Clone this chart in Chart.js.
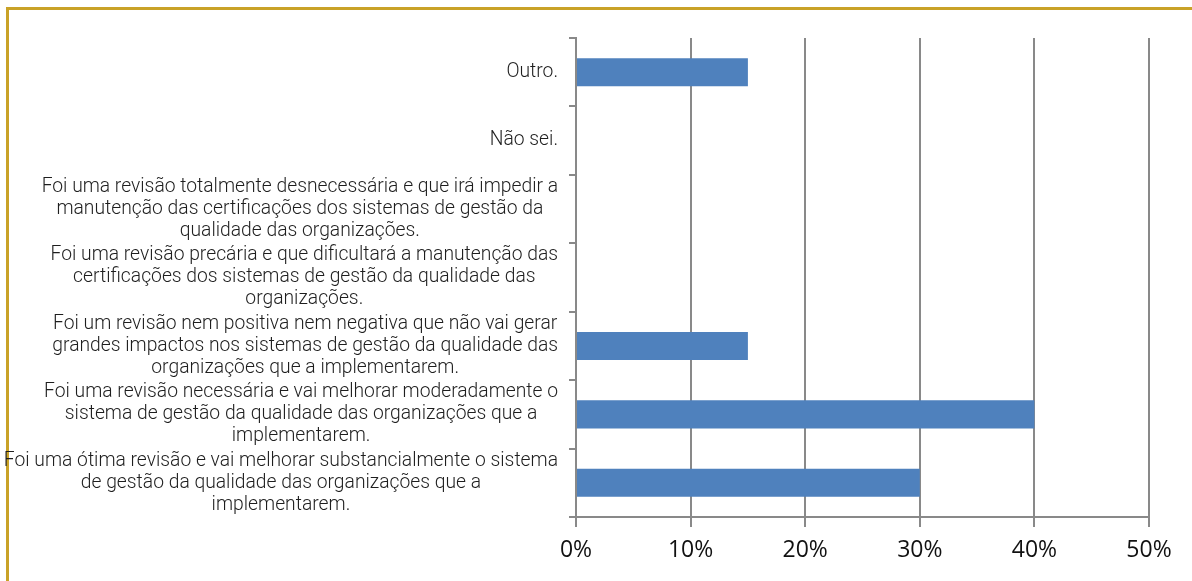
<!DOCTYPE html>
<html>
<head>
<meta charset="utf-8">
<script src="https://cdn.jsdelivr.net/npm/chart.js@4.4.0/dist/chart.umd.min.js"></script>
<style>
  html, body { margin: 0; padding: 0; background: #fff; }
  #wrap { position: relative; width: 1192px; height: 581px; overflow: hidden; }
  #frame { position: absolute; left: 6px; top: 7px; right: -10px; bottom: -10px;
           border-top: 3px solid #c9a227; border-left: 3px solid #c9a227; }
  canvas { position: absolute; left: 0; top: 0; }
</style>
</head>
<body>
<div id="wrap">
  <div id="frame"></div>
  <canvas id="chart" width="1192" height="581"></canvas>
</div>
<script>
// categorias, de cima para baixo
const categorias = [
  ['Outro.'],
  ['Não sei.'],
  ['Foi uma revisão totalmente desnecessária e que irá impedir a',
   'manutenção das certificações dos sistemas de gestão da',
   'qualidade das organizações.'],
  ['Foi uma revisão precária e que dificultará a manutenção das',
   'certificações dos sistemas de gestão da qualidade das',
   'organizações.'],
  ['Foi um revisão nem positiva nem negativa que não vai gerar',
   'grandes impactos nos sistemas de gestão da qualidade das',
   'organizações que a implementarem.'],
  ['Foi uma revisão necessária e vai melhorar moderadamente o',
   'sistema de gestão da qualidade das organizações que a',
   'implementarem.'],
  ['Foi uma ótima revisão e vai melhorar substancialmente o sistema',
   'de gestão da qualidade das organizações que a',
   'implementarem.']
];
const percentuais = [15, 0, 0, 0, 15, 40, 30];
const ticksX = [0, 10, 20, 30, 40, 50];

const labelFont = '300 19.3px Roboto';
const labelRight = 558;
const lineH = 22;

// desenha os rótulos do eixo y: bloco alinhado à direita, linhas centradas
const rotulosPlugin = {
  id: 'rotulos',
  afterDraw(chart) {
    const ctx = chart.ctx;
    const y = chart.scales.y;
    ctx.save();
    ctx.font = labelFont;
    ctx.fillStyle = '#1e1e1e';
    ctx.textAlign = 'center';
    ctx.textBaseline = 'middle';
    categorias.forEach((linhas, i) => {
      const cy = y.getPixelForValue(i);
      let w = 0;
      linhas.forEach(l => { w = Math.max(w, ctx.measureText(l).width); });
      const cx = labelRight - w / 2;
      const y0 = cy - (linhas.length - 1) * lineH / 2;
      linhas.forEach((l, k) => ctx.fillText(l, cx, y0 + k * lineH));
    });
    ctx.restore();
  }
};

new Chart(document.getElementById('chart'), {
  type: 'bar',
  data: {
    labels: categorias.map(c => c.join(' ')),
    datasets: [{
      data: percentuais,
      backgroundColor: '#4f81bd',
      barPercentage: 0.41,
      categoryPercentage: 1
    }]
  },
  options: {
    indexAxis: 'y',
    responsive: false,
    animation: false,
    layout: { padding: { top: 38, right: 43, left: 0, bottom: 0 } },
    plugins: { legend: { display: false }, tooltip: { enabled: false } },
    scales: {
      x: {
        min: 0, max: 50,
        afterBuildTicks: s => { s.ticks = ticksX.map(v => ({ value: v })); },
        afterFit: s => { s.height = 64; },
        grid: { color: '#898989', lineWidth: 2, tickLength: 10 },
        border: { color: '#898989', width: 2 },
        ticks: {
          callback: v => v + '%',
          font: { family: 'Open Sans', size: 23 },
          color: '#111',
          padding: 10,
          maxRotation: 0
        }
      },
      y: {
        offset: true,
        afterFit: s => { s.width = 576; },
        grid: { offset: true, drawOnChartArea: false, color: '#898989', lineWidth: 2, tickLength: 7 },
        border: { color: '#898989', width: 2 },
        ticks: { display: false }
      }
    }
  },
  plugins: [rotulosPlugin]
});
</script>
</body>
</html>
